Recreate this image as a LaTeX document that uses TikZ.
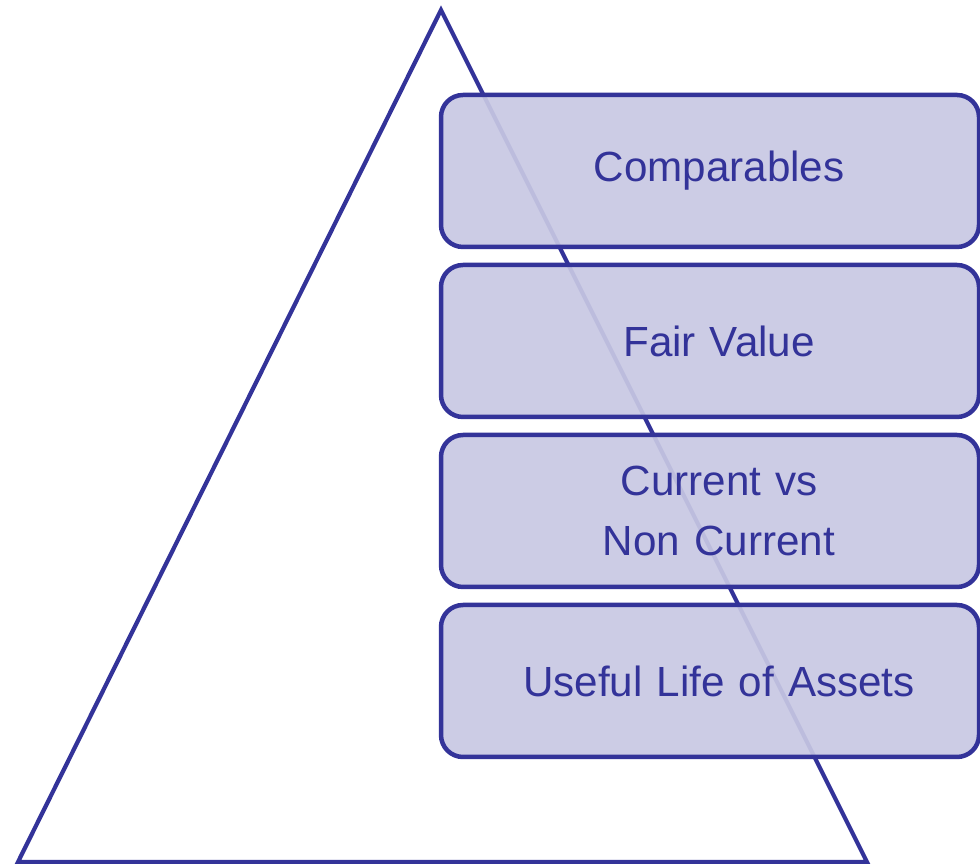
\documentclass[tikz,border=0pt]{standalone}
\usepackage{fontspec}
\setmainfont{Liberation Sans}
\usepackage{xcolor}
\usetikzlibrary{positioning}

\definecolor{navy}{HTML}{333399}
\tikzset{
  tier/.style={draw=navy, line width=3.2pt, fill=navy!27, fill opacity=0.92, text opacity=1,
    rounded corners=0.55cm, minimum width=13.45cm, minimum height=3.8cm, inner sep=0pt,
    outer sep=0pt, text width=13.45cm, align=center, text=navy,
    font=\fontsize{30}{42}\selectfont}
}

\begin{document}
\begin{tikzpicture}
\useasboundingbox (0,0) rectangle (24.5,21.6);
% pyramid behind the levels
\coordinate (apex) at (11.025,21.35);
\coordinate (left) at (0.45,0.05);
\coordinate (right) at (21.675,0.05);
\draw[navy, line width=3pt, line join=miter] (apex) -- (right) -- (left) -- cycle;
% levels
\node[tier] (comp) at (17.75,17.325) {\hspace*{0.45cm}Comparables};
\node[tier, below=0.45cm of comp] (fair) {\hspace*{0.45cm}Fair Value};
\node[tier, below=0.45cm of fair] (curr) {\hspace*{0.45cm}Current vs\\\hspace*{0.45cm}Non Current};
\node[tier, below=0.45cm of curr] (life) {\hspace*{0.45cm}Useful Life of Assets};
\end{tikzpicture}
\end{document}
